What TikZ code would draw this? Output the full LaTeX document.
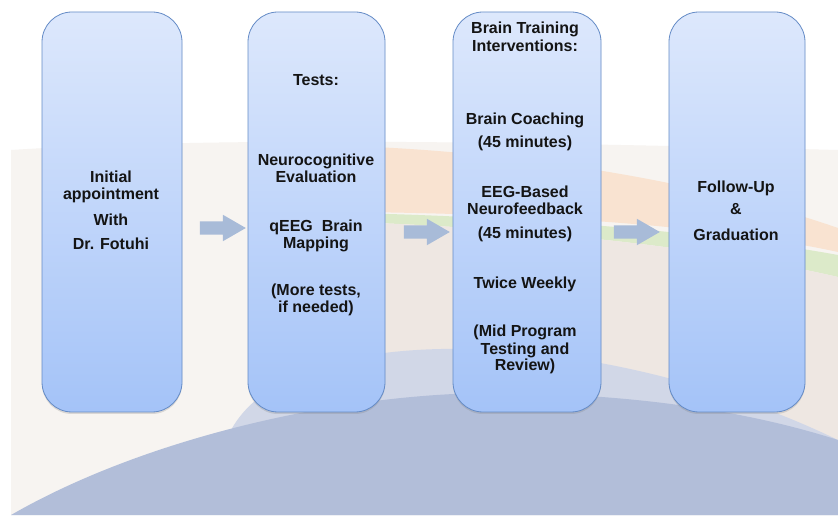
\documentclass[tikz,border=0pt]{standalone}
\usepackage{fontspec}
\setmainfont{Liberation Sans}
\usetikzlibrary{shapes.arrows,shadows}

\definecolor{bgbeige}{HTML}{F7F4F1}
\definecolor{bgwarm}{HTML}{EEE7E2}
\definecolor{bgorange}{HTML}{F9E3D1}
\definecolor{bggreen}{HTML}{DCEAC9}
\definecolor{bglight}{HTML}{D1D7E7}
\definecolor{bgdome}{HTML}{B2BED9}
\definecolor{boxtop}{HTML}{DDE8FC}
\definecolor{boxbot}{HTML}{A4C3F8}
\definecolor{boxline}{HTML}{648BC6}
\definecolor{arrowblue}{HTML}{A8BBD8}
\definecolor{textblack}{HTML}{141414}

\begin{document}
\begin{tikzpicture}[x=1pt,y=-1pt,
	stage/.style={rectangle,rounded corners=30pt,draw=boxline,line width=0.8pt,
		top color=boxtop,bottom color=boxbot,minimum height=400pt,
		drop shadow={shadow xshift=0pt,shadow yshift=-2pt,opacity=0.25}},
	blockarrow/.style={single arrow,fill=arrowblue,inner xsep=0pt,inner ysep=6.5pt,
		minimum height=46pt,single arrow head extend=6.5pt,
		single arrow tip angle=60},
	lbl/.style={anchor=base,align=center,text=textblack,
		font=\fontsize{16}{17}\selectfont\bfseries}]
	
	\useasboundingbox (0,0) rectangle (838,518);
	\fill[white] (0,0) rectangle (838,518);
	
	\fill[bgbeige] (11,150) .. controls (200,138) and (450,140) .. (838,150)
	-- (838,515) -- (11,515) -- cycle;
	\fill[bgorange] (260,145) .. controls (480,142) and (700,180) .. (838,228)
	-- (838,252) .. controls (700,222) and (480,210) .. (260,212) -- cycle;
	\fill[bggreen] (260,212) .. controls (480,212) and (700,230) .. (838,255)
	-- (838,277) .. controls (700,245) and (480,222) .. (260,220) -- cycle;
	\fill[bgwarm] (260,220) .. controls (480,222) and (700,245) .. (838,277)
	-- (838,440) -- (260,400) -- cycle;
	
	\fill[bglight] (230,432) .. controls (290,315) and (600,325) .. (838,440)
	-- (838,515) -- (230,515) -- cycle;
	\fill[bgdome] (11,515) .. controls (150,435) and (350,392) .. (500,393)
	.. controls (650,394) and (760,415) .. (838,440) -- (838,515) -- cycle;
	
	\node[stage,minimum width=140pt] (initial) at (112,212) {};
	\node[stage,minimum width=137pt] (tests) at (316.5,212) {};
	\node[stage,minimum width=148pt] (training) at (527,212) {};
	\node[stage,minimum width=136pt] (followup) at (737,212) {};
	
	\node[blockarrow] (arr1) at (217,228) {};
	\node[blockarrow] (arr2) at (421,232) {};
	\node[blockarrow] (arr3) at (631,232) {};
	
	\node[lbl] (initialtxt) at (111,250) {Initial\\appointment\\[9pt]With\\[7pt]Dr. Fotuhi};
	
	\node[lbl] (teststitle) at (316,86) {Tests:};
	\node[lbl] (neuro) at (316,183) {Neurocognitive\\Evaluation};
	\node[lbl] (qeeg) at (316,249) {qEEG~~Brain\\Mapping};
	\node[lbl] (more) at (316,313) {(More tests,\\if needed)};
	
	\node[lbl] (trainingtitle) at (525,52) {Brain Training\\[1pt]Interventions:};
	\node[lbl] (coach) at (525,125) {Brain Coaching};
	\node[lbl] (coachtime) at (525,148) {(45 minutes)};
	\node[lbl] (eeg) at (525,215) {EEG-Based\\Neurofeedback};
	\node[lbl] (eegtime) at (525,239) {(45 minutes)};
	\node[lbl] (twice) at (525,289) {Twice Weekly};
	\node[lbl] (mid) at (525,371) {(Mid Program\\Testing and\\Review)};
	
	\node[lbl] (followtxt) at (736,241) {Follow-Up\\[5pt]\&\\[9pt]Graduation};
\end{tikzpicture}
\end{document}
